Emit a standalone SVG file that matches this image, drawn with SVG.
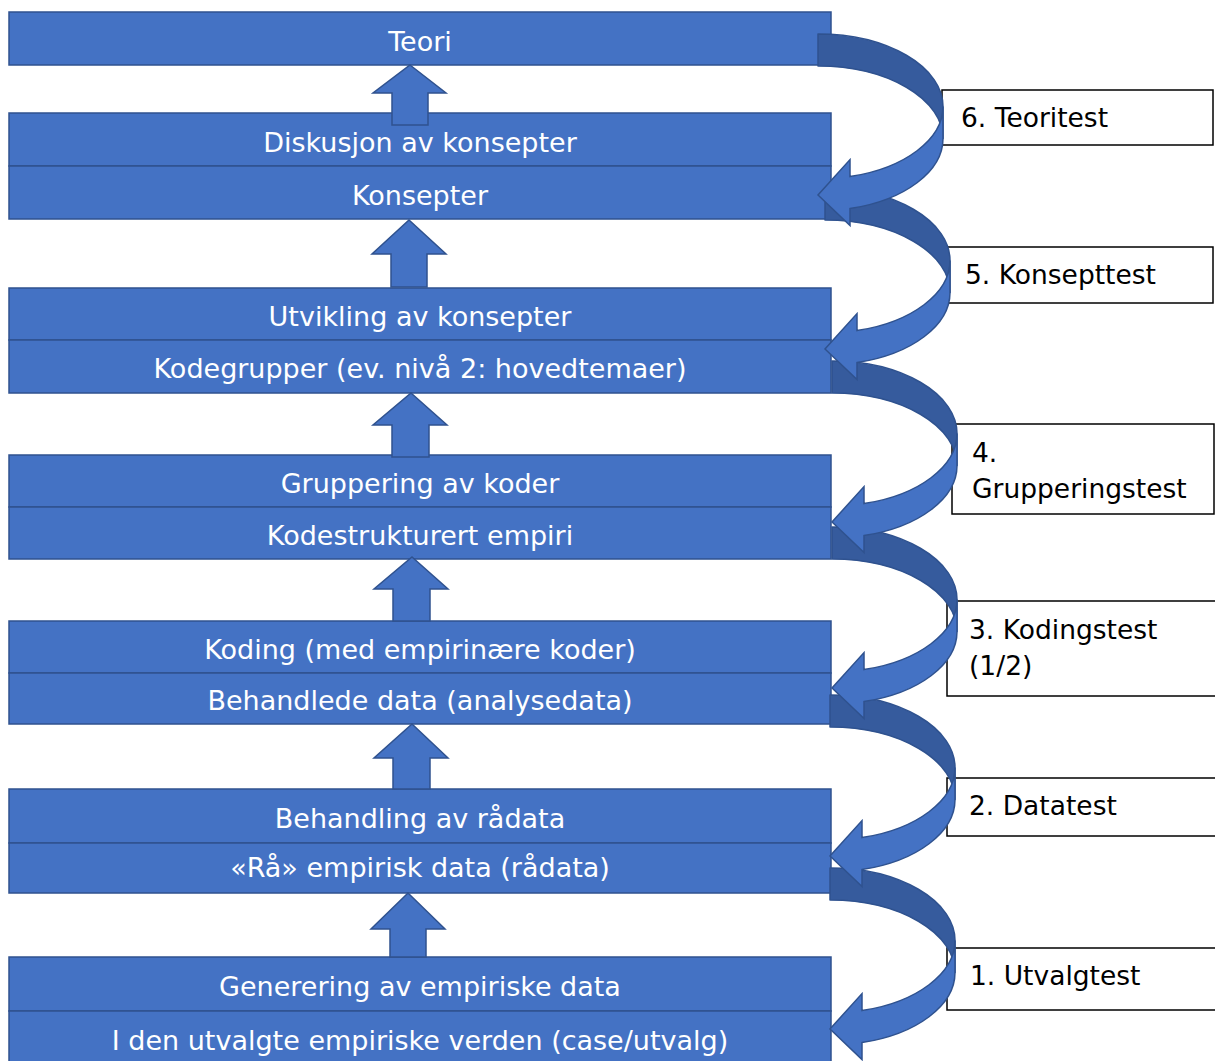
<svg xmlns="http://www.w3.org/2000/svg" width="1215" height="1061" viewBox="0 0 1215 1061">
<style>
.box{fill:#4472C4;stroke:#2F528F;stroke-width:1.5}
.up{fill:#4472C4;stroke:#2F528F;stroke-width:1.5;stroke-linejoin:miter}
.t{font-family:"DejaVu Sans",Verdana,sans-serif;font-size:27px;fill:#ffffff;text-anchor:middle}
.lb{fill:#ffffff;stroke:#000000;stroke-width:1.5}
.lt{font-family:"DejaVu Sans",Verdana,sans-serif;font-size:26.5px;fill:#000000}
.dk{fill:#365B9D;stroke:#2F528F;stroke-width:1.5;stroke-linejoin:round}
.lt2{fill:#4472C4;stroke:#2F528F;stroke-width:1.5;stroke-linejoin:miter}
</style>
<defs>
<g id="carrow">
<path class="dk" d="M0 0 A125 72.5 0 0 1 125 72.5 L125 104.5 A125 72.5 0 0 0 0 32 Z"/>
<path class="lt2" d="M32 142.6 L32 125.6 L0 161 L32 191.6 L32 174.6 A125 72.5 0 0 0 125 104.5 L125 72.5 A125 72.5 0 0 1 32 142.6 Z"/>
</g>
</defs>
<rect width="1215" height="1061" fill="#ffffff"/>
<g id="n-teori"><rect class="box" x="9" y="12" width="822" height="53"/><text class="t" x="420" y="51">Teori</text></g>
<g id="n-diskusjon"><rect class="box" x="9" y="113" width="822" height="53"/><text class="t" x="420" y="152">Diskusjon av konsepter</text></g>
<g id="n-konsepter"><rect class="box" x="9" y="166" width="822" height="53"/><text class="t" x="420" y="205">Konsepter</text></g>
<g id="n-utvikling"><rect class="box" x="9" y="288" width="822" height="52"/><text class="t" x="420" y="326">Utvikling av konsepter</text></g>
<g id="n-kodegrupper"><rect class="box" x="9" y="340" width="822" height="53"/><text class="t" x="420" y="378">Kodegrupper (ev. nivå 2: hovedtemaer)</text></g>
<g id="n-gruppering"><rect class="box" x="9" y="455" width="822" height="52"/><text class="t" x="420" y="493">Gruppering av koder</text></g>
<g id="n-kodestrukturert"><rect class="box" x="9" y="507" width="822" height="52"/><text class="t" x="420" y="545">Kodestrukturert empiri</text></g>
<g id="n-koding"><rect class="box" x="9" y="621" width="822" height="52"/><text class="t" x="420" y="659">Koding (med empirinære koder)</text></g>
<g id="n-behandlede"><rect class="box" x="9" y="673" width="822" height="51"/><text class="t" x="420" y="710">Behandlede data (analysedata)</text></g>
<g id="n-behandling"><rect class="box" x="9" y="789" width="822" height="54"/><text class="t" x="420" y="828">Behandling av rådata</text></g>
<g id="n-raadata"><rect class="box" x="9" y="843" width="822" height="50"/><text class="t" x="420" y="877">«Rå» empirisk data (rådata)</text></g>
<g id="n-generering"><rect class="box" x="9" y="957" width="822" height="54"/><text class="t" x="420" y="996">Generering av empiriske data</text></g>
<g id="n-verden"><rect class="box" x="9" y="1011" width="822" height="54"/><text class="t" x="420" y="1050">I den utvalgte empiriske verden (case/utvalg)</text></g>
<g id="connectors">
<path class="up" d="M410 65 L446 93 L428 93 L428 125 L392 125 L392 93 L373 93 Z"/>
<path class="up" d="M409 220 L446 254 L427 254 L427 287 L391 287 L391 254 L372 254 Z"/>
<path class="up" d="M411 393 L447 425 L429 425 L429 457 L392 457 L392 425 L373 425 Z"/>
<path class="up" d="M412 557 L448 589 L430 589 L430 621 L393 621 L393 589 L374 589 Z"/>
<path class="up" d="M412 724 L448 758 L430 758 L430 789 L393 789 L393 758 L374 758 Z"/>
<path class="up" d="M408 893 L445 929 L426 929 L426 957 L390 957 L390 929 L371 929 Z"/>
</g>
<g id="l6"><rect class="lb" x="942" y="90" width="271" height="55"/><text class="lt" x="961" y="127">6. Teoritest</text></g>
<g id="l5"><rect class="lb" x="947" y="247" width="266" height="56"/><text class="lt" x="965" y="284">5. Konsepttest</text></g>
<g id="l4"><rect class="lb" x="952" y="424" width="262" height="90"/><text class="lt" x="972" y="462">4.</text><text class="lt" x="972" y="498">Grupperingstest</text></g>
<g id="l3"><rect class="lb" x="947" y="601" width="272" height="95"/><text class="lt" x="969" y="639">3. Kodingstest</text><text class="lt" x="969" y="675">(1/2)</text></g>
<g id="l2"><rect class="lb" x="947" y="778" width="272" height="58"/><text class="lt" x="969" y="815">2. Datatest</text></g>
<g id="l1"><rect class="lb" x="947" y="948" width="272" height="62"/><text class="lt" x="970" y="985">1. Utvalgtest</text></g>
<g id="curved-connectors">
<use href="#carrow" transform="translate(830,868)"/>
<use href="#carrow" transform="translate(830,695)"/>
<use href="#carrow" transform="translate(832,527)"/>
<use href="#carrow" transform="translate(832,361)"/>
<use href="#carrow" transform="translate(825,188)"/>
<use href="#carrow" transform="translate(818,34)"/>
</g>
</svg>
